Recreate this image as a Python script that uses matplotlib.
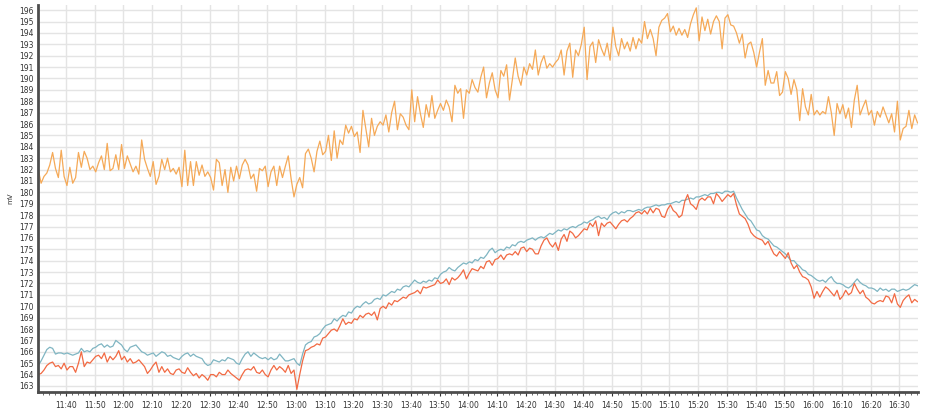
import matplotlib
matplotlib.use("Agg")
import matplotlib.pyplot as plt
import matplotlib.dates as mdates
import pandas as pd

# one reading per minute, starting 11:30:20
start = "2020-01-01 11:30:20"

orange = [
    182.0, 180.8, 181.4, 181.7, 182.4, 183.5, 182.1, 181.3, 183.7, 181.4,
    180.6, 182.2, 180.8, 181.3, 183.5, 182.2, 183.6, 183.0, 182.0, 182.3,
    181.8, 182.6, 183.2, 182.0, 184.3, 181.9, 182.1, 183.3, 182.0, 184.2,
    182.1, 183.2, 182.5, 181.8, 182.3, 181.6, 184.6, 182.9, 182.1, 181.4,
    182.7, 180.7, 181.4, 182.9, 182.0, 183.0, 181.8, 182.1, 181.6, 182.2,
    180.5, 183.7, 180.6, 182.7, 180.6, 182.7, 181.5, 182.4, 181.4, 181.8,
    181.3, 180.2, 182.9, 182.6, 180.6, 182.0, 180.0, 182.2, 181.0, 182.3,
    181.2, 182.4, 182.9, 182.4, 181.2, 181.6, 180.1, 182.1, 181.9, 182.3,
    180.5, 181.8, 182.3, 180.6, 182.3, 181.3, 182.3, 183.2, 181.2, 179.6,
    180.7, 181.3, 180.4, 183.4, 183.8, 183.0, 181.8, 183.6, 184.5, 183.3,
    183.6, 185.0, 182.8, 185.4, 183.0, 184.6, 184.2, 185.9, 185.2, 185.8,
    184.9, 185.3, 183.5, 187.2, 185.6, 184.0, 186.5, 185.0, 185.8, 186.2,
    185.9, 186.8, 185.3, 187.0, 188.0, 185.5, 186.9, 186.6, 185.9, 185.5,
    189.0, 186.2, 188.4, 186.9, 185.7, 187.7, 186.6, 188.5, 186.5, 187.2,
    187.8, 187.2, 188.1, 187.5, 186.2, 189.4, 188.7, 189.1, 186.5, 189.0,
    188.7, 189.9, 189.2, 188.8, 190.1, 191.0, 188.3, 189.6, 190.5, 189.0,
    188.3, 190.7, 190.2, 191.2, 188.1, 189.9, 191.8, 190.2, 189.4, 191.0,
    190.3, 191.3, 190.8, 192.5, 190.3, 191.4, 192.0, 190.9, 191.3, 191.0,
    191.4, 191.7, 192.5, 190.3, 192.4, 193.1, 190.1, 192.5, 192.0, 193.0,
    194.5, 189.9, 192.8, 193.2, 191.4, 193.4, 192.6, 192.0, 193.1, 191.6,
    194.5, 192.8, 192.0, 193.5, 192.6, 193.2, 192.4, 193.6, 192.6, 193.5,
    193.1, 195.0, 193.5, 194.3, 193.5, 192.0, 194.5, 195.1, 195.3, 195.7,
    194.1, 194.6, 193.8, 194.4, 193.8, 194.3, 193.6, 194.8, 195.6, 196.2,
    193.3, 195.4, 194.2, 195.2, 193.9, 195.0, 195.5, 195.0, 192.6, 195.3,
    195.6, 194.7, 194.6, 194.0, 193.1, 193.9, 191.8, 193.0, 193.2, 192.3,
    191.0, 192.3, 193.5, 189.4, 190.7, 189.6, 189.6, 190.6, 188.5, 188.8,
    190.6, 190.0, 188.6, 189.9, 189.0, 186.3, 189.1, 187.5, 186.8, 188.6,
    186.8, 187.2, 186.8, 187.1, 186.9, 188.4, 187.0, 185.0, 187.8, 186.9,
    187.7, 186.5, 187.4, 185.7, 188.1, 189.4, 186.8, 187.5, 188.1, 186.8,
    187.2, 185.9, 187.1, 186.6, 187.5, 186.8, 186.1, 186.9, 185.3, 188.0,
    184.6, 185.6, 185.8, 187.2, 185.6, 186.8, 186.1,
]

teal = [
    164.8, 165.2, 165.7, 166.2, 166.4, 166.3, 165.8, 165.9, 165.9, 165.8,
    165.9, 165.8, 165.7, 165.8, 165.9, 166.3, 166.0, 166.1, 166.0, 166.3,
    166.4, 166.6, 166.7, 166.4, 166.6, 166.4, 166.5, 167.0, 166.8, 166.6,
    166.2, 166.0, 166.4, 166.5, 166.6, 166.3, 166.0, 165.9, 165.7, 165.8,
    165.9, 165.6, 165.8, 166.0, 165.9, 165.6, 165.7, 165.5, 165.4, 165.3,
    165.6, 165.8, 165.9, 165.6, 165.8, 165.6, 165.5, 165.4, 165.0, 164.8,
    164.9, 165.3, 165.2, 165.1, 165.3, 165.2, 165.5, 165.4, 165.3, 165.0,
    164.9, 165.4, 165.8, 166.0, 165.6, 165.9, 165.7, 165.5, 165.4, 165.5,
    165.3, 165.5, 165.3, 165.4, 165.8, 165.5, 165.2, 165.2, 165.3, 165.4,
    165.0, 164.8, 165.8, 166.6, 166.8, 166.9, 167.3, 167.4, 167.6, 168.0,
    168.3, 168.4, 168.5, 168.9, 168.7, 169.0, 169.2, 169.1, 169.5, 169.4,
    169.8, 170.0, 169.9, 170.2, 170.4, 170.2, 170.3, 170.6, 170.7, 170.6,
    171.0, 170.9, 171.1, 171.3, 171.2, 171.5, 171.4, 171.7, 171.8, 171.7,
    172.0, 172.3, 172.1, 172.0, 172.2, 172.1, 172.3, 172.2, 172.5, 172.4,
    172.8, 173.0, 173.1, 173.4, 173.2, 173.1, 173.4, 173.6, 173.8, 173.7,
    173.9, 173.8, 174.1, 174.0, 174.3, 174.2, 174.5, 174.9, 175.1, 174.7,
    174.9, 175.0, 174.9, 175.2, 175.1, 175.4, 175.3, 175.6, 175.7, 175.6,
    175.8, 175.9, 176.0, 175.8, 176.0, 176.1, 176.0, 176.2, 176.4, 176.3,
    176.5, 176.7, 176.6, 176.8, 176.7, 176.9, 177.0, 176.9, 177.1, 177.2,
    177.4, 177.3, 177.5, 177.6, 177.8, 177.9, 177.7, 177.8, 177.6, 178.0,
    178.2, 178.3, 178.1, 178.3, 178.2, 178.4, 178.4, 178.3, 178.4, 178.5,
    178.4, 178.6, 178.7, 178.7, 178.8, 178.9, 178.8, 178.9, 178.9, 179.0,
    179.0, 179.1, 179.2, 179.1, 179.3, 179.3, 179.4, 179.5, 179.4, 179.6,
    179.6, 179.7, 179.8, 179.7, 179.9, 179.9, 180.0, 180.0, 179.9, 180.1,
    180.1, 180.0, 180.1, 179.5, 179.0, 178.5, 178.1, 177.7, 177.5, 177.1,
    176.7, 176.6, 176.2, 176.0, 175.9, 175.6, 175.3, 175.2, 175.0, 174.8,
    174.6, 174.3, 174.0, 174.0, 173.7, 173.5, 173.2, 173.1, 172.8, 172.7,
    172.5, 172.3, 172.2, 172.3, 172.1, 172.4, 172.6, 172.2, 172.0, 172.0,
    171.9, 171.7, 171.6, 171.8, 172.1, 172.4, 172.1, 171.9, 171.8, 171.6,
    171.6, 171.5, 171.3, 171.6, 171.4, 171.5, 171.3, 171.5, 171.5, 171.3,
    171.4, 171.5, 171.4, 171.5, 171.7, 171.9, 171.8,
]

red = [
    164.0, 164.1, 164.4, 164.8, 165.0, 165.1, 164.7, 164.8, 164.5, 165.0,
    164.4, 164.7, 164.7, 164.2, 165.0, 166.0, 164.7, 165.1, 165.0, 165.3,
    165.6, 165.7, 165.4, 165.9, 165.1, 165.6, 165.3, 165.6, 166.1, 165.3,
    165.6, 165.1, 165.4, 165.0, 165.1, 165.3, 165.0, 164.7, 164.1, 164.4,
    164.8, 165.1, 164.2, 164.7, 164.2, 164.5, 164.1, 164.0, 164.4, 164.5,
    164.2, 164.1, 164.6, 164.2, 163.9, 164.1, 163.7, 164.0, 163.8, 163.5,
    164.0, 164.0, 163.8, 164.2, 164.0, 164.0, 164.4, 164.1, 163.9, 163.7,
    163.5, 164.0, 164.4, 164.5, 164.4, 164.7, 164.2, 164.1, 164.4, 164.0,
    163.8, 164.4, 164.8, 164.4, 164.7, 164.5, 164.2, 164.8, 164.1, 164.4,
    162.7, 164.0, 165.2, 166.1, 166.2, 166.4, 166.5, 166.7, 166.6, 167.2,
    167.3, 167.6, 167.9, 168.0, 167.8, 168.3, 168.9, 168.4, 168.6, 168.5,
    168.9, 168.8, 169.2, 169.0, 169.3, 169.4, 169.2, 169.5, 168.8, 169.8,
    170.0, 169.8, 170.3, 170.1, 170.5, 170.4, 170.6, 170.8, 170.7, 171.0,
    171.1, 171.2, 171.4, 171.1, 171.7, 171.6, 171.7, 171.8, 171.9, 172.3,
    172.0, 172.1, 172.4, 171.9, 172.5, 172.3, 172.5, 172.8, 173.2, 172.4,
    172.9, 173.3, 173.2, 173.1, 173.5, 173.3, 173.9, 174.0, 173.6, 174.1,
    174.2, 174.5, 174.1, 174.5, 174.6, 174.5, 174.8, 174.5, 175.1, 175.2,
    174.8, 175.1, 175.0, 174.6, 174.6, 175.3, 175.8, 176.0, 175.5, 175.2,
    175.6, 174.9, 175.9, 176.3, 175.7, 176.6, 176.4, 176.0, 176.2, 176.5,
    176.8, 176.7, 177.3, 177.0, 177.5, 176.2, 177.3, 177.0, 177.3, 177.4,
    177.1, 176.8, 177.2, 177.5, 177.6, 177.4, 177.7, 177.9, 178.2, 178.3,
    178.1, 178.4, 178.1, 178.6, 178.2, 178.6, 178.5, 177.9, 177.8, 178.5,
    178.9, 178.4, 178.2, 177.8, 178.0, 179.2, 179.8, 179.0, 178.8, 178.5,
    179.3, 179.5, 179.3, 179.6, 179.6, 179.0, 179.9, 179.6, 179.2, 179.5,
    179.8, 179.6, 179.9, 178.9, 178.1, 177.9, 177.7, 177.2, 176.5, 176.2,
    176.0, 175.9, 175.8, 175.4, 175.7, 175.1, 174.6, 174.4, 174.8, 174.5,
    174.2, 174.7, 173.8, 173.3, 173.6, 173.0, 172.6, 172.5, 172.3, 171.7,
    170.7, 171.3, 170.8, 171.3, 171.7, 171.5, 171.2, 170.9, 171.4, 170.6,
    170.9, 171.4, 171.0, 171.2, 172.0, 171.5, 171.1, 171.4, 170.8, 170.6,
    170.3, 170.2, 170.4, 170.5, 170.4, 170.9, 170.8, 170.3, 171.1, 170.2,
    169.9, 170.5, 170.8, 171.0, 170.3, 170.6, 170.4,
]

plt.rcParams["font.family"] = "DejaVu Sans"

fig = plt.figure(figsize=(9.26, 4.13), dpi=100)
ax = fig.add_axes([38 / 926, 1 - 392 / 413, 880 / 926, 387 / 413])

for vals, col in [(orange, "#f5a957"), (teal, "#7fb5c2"), (red, "#f26a43")]:
    t = pd.date_range(start, periods=len(vals), freq="1min")
    ax.plot(t, vals, color=col, lw=0.9)

t0 = pd.Timestamp("2020-01-01 11:30:15")
t1 = pd.Timestamp("2020-01-01 16:36:30")
ax.set_xlim(t0, t1)
ax.set_ylim(162.47, 196.45)

ax.yaxis.set_major_locator(plt.MultipleLocator(1))
ax.xaxis.set_major_locator(mdates.MinuteLocator(byminute=range(0, 60, 10)))
ax.xaxis.set_minor_locator(mdates.MinuteLocator(byminute=range(0, 60, 2)))
ax.xaxis.set_major_formatter(mdates.DateFormatter("%H:%M"))

ax.grid(True, which="major", color="#e4e4e4", lw=1.0)
ax.set_axisbelow(True)
for s in ["top", "right"]:
    ax.spines[s].set_visible(False)
for s in ["left", "bottom"]:
    ax.spines[s].set_color("#4d4d4d")
    ax.spines[s].set_linewidth(2)

ax.tick_params(axis="both", which="major", labelsize=5.5, colors="#333333",
               length=3, width=0.8)
ax.tick_params(axis="x", which="minor", length=2, width=0.6, color="#555555")
ax.tick_params(axis="y", length=0, pad=3)

ax.set_ylabel("mV", fontsize=5, color="#333333", labelpad=4)

fig.savefig("out.png", dpi=100)
